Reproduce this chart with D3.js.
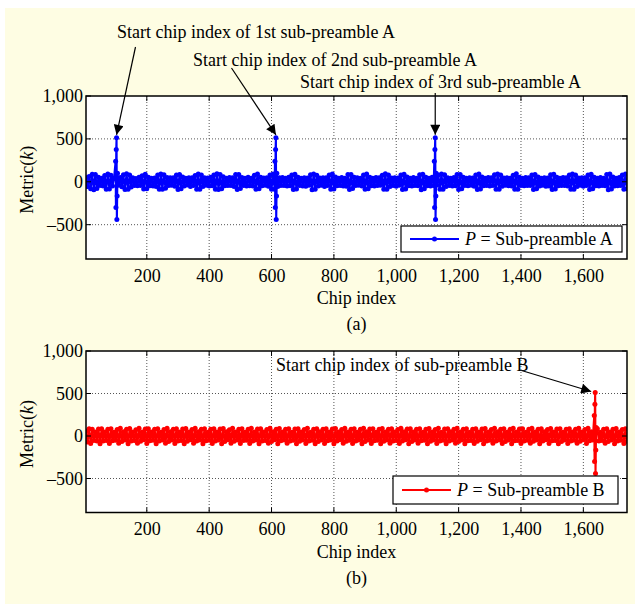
<!DOCTYPE html>
<html><head><meta charset="utf-8">
<script src="https://cdn.jsdelivr.net/npm/d3@7"></script>
<style>
body{margin:0;background:#fff;}
svg{display:block;font-family:"Liberation Serif","Times New Roman",serif;}
</style></head>
<body><svg id="c" width="635" height="604"></svg>
<script>
// ---------- data ----------
const chipStart = 5, chipStep = 5;
const xTicks = [200,400,600,800,1000,1200,1400,1600];
const yTicks = [-500,0,500,1000];
const peakOffsets = [-3,-2,-1,0,1,2,3];
const peakValuesA = [240,-300,375,512,-440,-165,100];
const peakValuesB = [240,-300,375,512,-440,-165,100];
const peakChipsA = [103,614,1125];
const peakChipsB = [1638];
const noiseA = [
48,-55,62,-80,88,-92,84,-78,52,-44,40,-50,72,-86,90,-84,76,-48,42,-52,
46,-40,50,-58,82,-90,94,-86,80,-60,48,-42,38,-46,52,-44,70,-84,88,-80,
54,-46,42,-50,44,-56,78,-88,92,-86,82,-74,50,-44,48,-40,46,-52,80,-90,
86,-82,56,-48,42,-38,46,-54,48,-42,74,-86,92,-88,80,-54,46,-40,44,-50,
52,-46,78,-88,94,-90,84,-80,58,-46,40,-44,50,-42,48,-56,84,-90,86,-78,
50,-44,40,-48,52,-46,42,-50,76,-86,90,-82,54,-46,44,-40,48,-52,80,-88,
92,-86,78,-56,46,-42,50,-44,40,-48,54,-46,80,-90,88,-84,52,-44,42,-48,
46,-52,44,-40,82,-92,90,-86,76,-50,44,-40,48,-54,46,-42,78,-88,92,-84,
56,-46,40,-44,50,-48,42,-52,86,-90,84,-78,52,-44,46,-40,42,-50,80,-88,
90,-82,54,-46,42,-48,50,-44,46,-40,76,-88,94,-86,80,-56,44,-42,48,-52,
44,-40,80,-90,88,-84,56,-46,42,-48,50,-44,40,-46,82,-92,88,-80,54,-46,
42,-48,52,-44,46,-40,78,-86,92,-88,82,-54,46,-42,40,-48,50,-46,84,-90,
86,-80,52,-44,42,-46,48,-40,44,-52,80,-90,92,-84,56,-46,40,-44,50,-48,
46,-42,82,-88,90,-86,78,-52,44,-40,48,-46,42,-50,76,-88,94,-86,54,-44,
40,-46,50,-44,48,-42,80,-90,86,-82,56,-48,42,-40,46,-52,44,-48,82,-90,
88,-84,54,-46,40,-44,50,-42,46,-48,78,-88,92,-86,80,-54,44,-40,48,-52,
46,-42,80,-90,88,-82,52,-46,42,-48,50,-44,40,-46,84,-92,90,-84,56,-48,
42,-46,50,-44,78,-86,90,-82];
const noiseB = [
60,-72,84,-88,80,-52,46,-58,82,-90,86,-60,48,-54,78,-88,84,-56,44,-50,
76,-86,90,-64,50,-46,80,-92,88,-58,46,-52,74,-86,90,-62,48,-44,82,-88,
84,-56,46,-50,78,-90,86,-60,44,-48,76,-84,92,-66,50,-46,80,-88,84,-58,
48,-52,82,-90,88,-62,46,-44,76,-86,90,-60,50,-48,80,-92,86,-56,44,-50,
78,-88,84,-58,48,-46,82,-90,88,-64,50,-44,74,-86,92,-62,46,-48,80,-88,
86,-54,44,-50,78,-88,90,-60,48,-46,82,-90,84,-58,46,-52,76,-86,90,-64,
50,-44,80,-92,88,-56,46,-48,78,-86,84,-60,44,-50,82,-90,86,-62,48,-46,
76,-88,92,-58,44,-50,80,-90,86,-64,50,-46,78,-88,84,-56,46,-48,82,-92,
88,-60,48,-44,76,-86,90,-62,46,-50,80,-88,84,-58,44,-48,78,-90,92,-64,
50,-46,82,-88,86,-56,44,-50,78,-90,88,-62,48,-46,80,-86,84,-58,46,-52,
76,-88,90,-60,50,-44,82,-92,86,-64,46,-48,78,-86,84,-56,44,-50,80,-90,
88,-62,48,-46,76,-88,92,-58,44,-50,82,-90,84,-60,50,-46,78,-86,90,-64,
46,-48,80,-90,86,-56,44,-52,78,-88,84,-62,48,-44,82,-92,88,-58,46,-50,
76,-86,90,-60,50,-46,80,-88,84,-64,44,-48,78,-90,92,-56,46,-52,82,-88,
86,-58,44,-50,78,-86,90,-62,48,-46,80,-92,84,-60,50,-44,76,-88,88,-56,
46,-52,82,-90,86,-64,44,-48,78,-88,84,-58,46,-50,80,-86,92,-62,48,-44,
76,-88,90,-56,50,-46,82,-90,86,-60,44,-52,78,-86,84,-64,48,-46,80,-92,
88,-58,46,-50,76,-88,84,-62];
const labelsA = ["Start chip index of 1st sub-preamble A","Start chip index of 2nd sub-preamble A","Start chip index of 3rd sub-preamble A"];
const labelB = "Start chip index of sub-preamble B";
const legendA = "Sub-preamble A", legendB = "Sub-preamble B";

// ---------- build series ----------
function buildSeries(noise, peaks, peakVals){
  let pts = noise.map((v,i)=>({x: chipStart + i*chipStep, y: v}));
  peaks.forEach(p=>{
    pts = pts.filter(d => d.x < p-3 || d.x > p+3);
    peakOffsets.forEach((o,j)=>pts.push({x:p+o, y:peakVals[j]}));
  });
  return pts.sort((a,b)=>a.x-b.x);
}
const seriesA = buildSeries(noiseA, peakChipsA, peakValuesA);
const seriesB = buildSeries(noiseB, peakChipsB, peakValuesB);

// ---------- drawing ----------
const svg = d3.select("#c");
svg.append("rect").attr("x",5).attr("y",8).attr("width",630).attr("height",596).attr("fill","#fefde3");

const L = 86, R = 627;
const x = d3.scaleLinear().domain([5,1740]).range([L,R]);
const fmtY = v => v < 0 ? "\u2013" + d3.format(",")(-v) : d3.format(",")(v);
const LW = 2.1, MR = 2.5;

function panel(top, bottom, series, color, cap, legText, legBox, clipId){
  const y = d3.scaleLinear().domain([-900,1000]).range([bottom, top]);
  const g = svg.append("g");
  g.append("rect").attr("x",L).attr("y",top).attr("width",R-L).attr("height",bottom-top).attr("fill","#fff");
  // grid
  g.selectAll(".gx").data(xTicks).join("line")
    .attr("x1",d=>x(d)).attr("x2",d=>x(d)).attr("y1",top).attr("y2",bottom)
    .attr("stroke","#555").attr("stroke-width",1).attr("stroke-dasharray","1,2");
  g.selectAll(".gy").data(yTicks.filter(v=>v<1000)).join("line")
    .attr("x1",L).attr("x2",R).attr("y1",d=>y(d)).attr("y2",d=>y(d))
    .attr("stroke","#555").attr("stroke-width",1).attr("stroke-dasharray","1,2");
  // clip
  svg.append("clipPath").attr("id",clipId).append("rect")
    .attr("x",L).attr("y",top).attr("width",R-L).attr("height",bottom-top);
  const dg = g.append("g").attr("clip-path",`url(#${clipId})`);
  const line = d3.line().x(d=>x(d.x)).y(d=>y(d.y));
  dg.append("path").datum(series).attr("d",line).attr("fill","none")
    .attr("stroke",color).attr("stroke-width",LW).attr("stroke-linejoin","round");
  dg.selectAll("circle").data(series).join("circle")
    .attr("cx",d=>x(d.x)).attr("cy",d=>y(d.y)).attr("r",MR).attr("fill",color);
  // ticks inside (all four sides)
  const tk = 5;
  xTicks.forEach(v=>{
    g.append("line").attr("x1",x(v)).attr("x2",x(v)).attr("y1",bottom).attr("y2",bottom-tk).attr("stroke","#000");
    g.append("line").attr("x1",x(v)).attr("x2",x(v)).attr("y1",top).attr("y2",top+tk).attr("stroke","#000");
  });
  yTicks.forEach(v=>{
    g.append("line").attr("x1",L).attr("x2",L+tk).attr("y1",y(v)).attr("y2",y(v)).attr("stroke","#000");
    g.append("line").attr("x1",R).attr("x2",R-tk).attr("y1",y(v)).attr("y2",y(v)).attr("stroke","#000");
  });
  // axes labels via d3 axes (no lines)
  const ax = g.append("g").attr("transform",`translate(0,${bottom})`).call(d3.axisBottom(x).tickValues(xTicks).tickFormat(d3.format(",")).tickSize(0).tickPadding(10));
  const ay = g.append("g").attr("transform",`translate(${L},0)`).call(d3.axisLeft(y).tickValues(yTicks).tickFormat(fmtY).tickSize(0).tickPadding(3));
  [ax,ay].forEach(a=>{a.select(".domain").remove(); a.selectAll("text").attr("font-size",18).attr("fill","#000").attr("font-family","Liberation Serif, Times New Roman, serif");});
  // legend
  const lg = g.append("g");
  lg.append("rect").attr("x",legBox[0]).attr("y",legBox[1]).attr("width",legBox[2]).attr("height",legBox[3])
    .attr("fill","#fff").attr("stroke","#000").attr("stroke-width",1.2);
  const ly = legBox[1]+legBox[3]/2;
  lg.append("line").attr("x1",legBox[0]+9).attr("x2",legBox[0]+58).attr("y1",ly).attr("y2",ly).attr("stroke",color).attr("stroke-width",LW);
  lg.append("circle").attr("cx",legBox[0]+33.5).attr("cy",ly).attr("r",MR).attr("fill",color);
  const lt = lg.append("text").attr("x",legBox[0]+64).attr("y",ly+6).attr("font-size",18);
  lt.append("tspan").attr("font-style","italic").text("P");
  lt.append("tspan").text(" = " + legText);
  // frame
  g.append("rect").attr("x",L).attr("y",top).attr("width",R-L).attr("height",bottom-top)
    .attr("fill","none").attr("stroke","#000").attr("stroke-width",1.5);
  // axis titles
  g.append("text").attr("x",(L+R)/2).attr("y",bottom+45).attr("text-anchor","middle").attr("font-size",18).text("Chip index");
  g.append("text").attr("x",(L+R)/2).attr("y",bottom+71).attr("text-anchor","middle").attr("font-size",18).text(cap);
  const yl = g.append("text").attr("transform",`translate(33,${y(0)-2}) rotate(-90)`).attr("text-anchor","middle").attr("font-size",18);
  yl.append("tspan").text("Metric(");
  yl.append("tspan").attr("font-style","italic").text("k");
  yl.append("tspan").text(")");
  return y;
}

const yA = panel(96, 259, seriesA, "#0000ff", "(a)", legendA, [401,226,221,26], "clipA");
const yB = panel(351, 512.5, seriesB, "#ff0000", "(b)", legendB, [393,476,225,28], "clipB");

// ---------- annotations ----------
svg.append("defs").append("marker").attr("id","ah").attr("viewBox","0 0 10 10")
  .attr("refX",10).attr("refY",5).attr("markerWidth",12).attr("markerHeight",10)
  .attr("markerUnits","userSpaceOnUse").attr("orient","auto")
  .append("path").attr("d","M0,0 L10,5 L0,10 Z").attr("fill","#000");

function arrow(x1,y1,x2,y2){
  svg.append("line").attr("x1",x1).attr("y1",y1).attr("x2",x2).attr("y2",y2)
    .attr("stroke","#000").attr("stroke-width",1.2).attr("marker-end","url(#ah)");
}
const textPos = [[117,38],[193,66],[300,88]];
const arrowStart = [[135.5,47],[231.5,68],[x(peakChipsA[2]),93]];
labelsA.forEach((t,i)=>{
  svg.append("text").attr("x",textPos[i][0]).attr("y",textPos[i][1]).attr("font-size",18).text(t);
  arrow(arrowStart[i][0],arrowStart[i][1], x(peakChipsA[i]), yA(512)-3);
});
svg.append("text").attr("x",276).attr("y",371).attr("font-size",18).text(labelB);
arrow(521.5,370.5, x(peakChipsB[0])-4, yB(512)-1);
</script></body></html>
